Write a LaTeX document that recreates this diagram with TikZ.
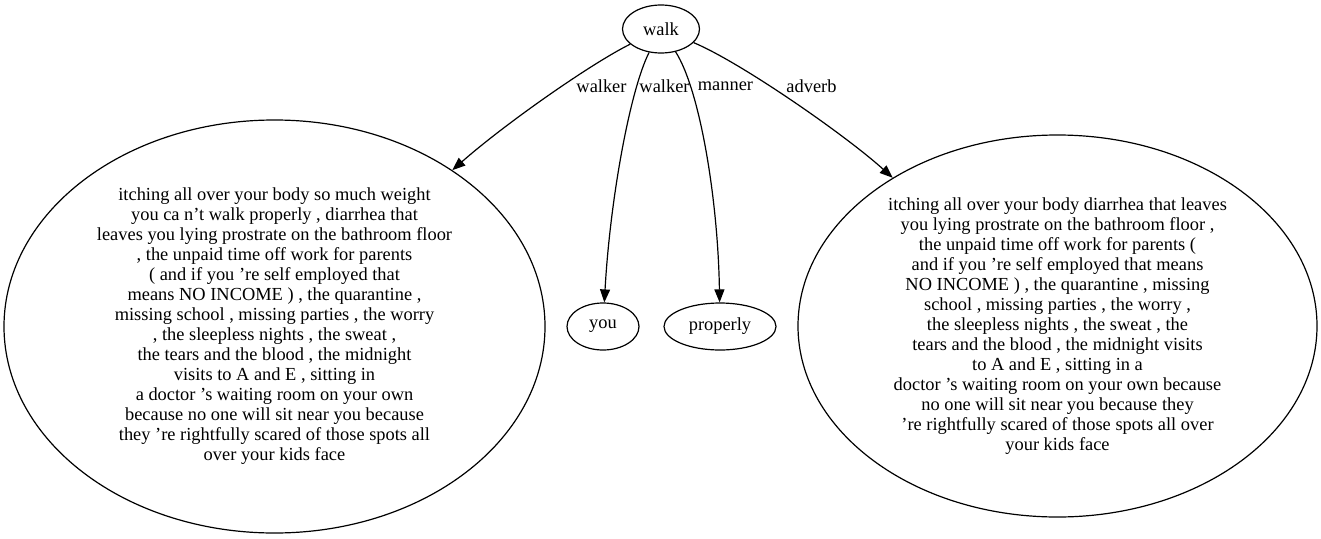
\documentclass[tikz,border=0pt]{standalone}
\usepackage{fontspec}
\setmainfont{Liberation Serif}
\usepackage{tikz}
\usetikzlibrary{shapes.geometric}
\usetikzlibrary{arrows.meta}

\begin{document}
\begin{tikzpicture}[x=1pt,y=-1pt]
    \newcommand{\wordheight}[0]{47pt}
    \newcommand{\graphfont}[0]{\fontsize{18.4}{20}\selectfont}

    \tikzstyle{dedge} = [line width=1.2pt,->,>={Triangle[length=13pt,width=10pt]},draw=black]

    \tikzstyle{word}=[
      ellipse,
      draw=black,
      line width=1.2pt,
      inner sep=0pt,
      minimum height=\wordheight,
      font=\graphfont,
    ]
    \tikzstyle{phrase}=[
      word,
      align=center,
    ]
    \tikzstyle{elabel}=[
      inner sep=0pt,
      font=\graphfont,
    ]

    \useasboundingbox (0,0) rectangle (1321,538);

    \node[word,minimum width=77pt,minimum height=48pt] (walk) at (661,29) {walk};
    \node[word,minimum width=72pt] (you) at (603,326.5) {you};
    \node[word,minimum width=112pt] (properly) at (720,326.5) {properly};

    \node[phrase,minimum width=541pt,minimum height=413pt] (leftphrase) at (274.5,326.5) {%
      itching all over your body so much weight\\
      you ca n't walk properly , diarrhea that\\
      leaves you lying prostrate on the bathroom floor\\
      , the unpaid time off work for parents\\
      ( and if you 're self employed that\\
      means NO INCOME ) , the quarantine ,\\
      missing school , missing parties , the worry\\
      , the sleepless nights , the sweat ,\\
      the tears and the blood , the midnight\\
      visits to A and E , sitting in\\
      a doctor 's waiting room on your own\\
      because no one will sit near you because\\
      they 're rightfully scared of those spots all\\
      over your kids face};

    \node[phrase,minimum width=519pt,minimum height=382pt] (rightphrase) at (1057.5,326) {%
      itching all over your body diarrhea that leaves\\
      you lying prostrate on the bathroom floor ,\\
      the unpaid time off work for parents (\\
      and if you 're self employed that means\\
      NO INCOME ) , the quarantine , missing\\
      school , missing parties , the worry ,\\
      the sleepless nights , the sweat , the\\
      tears and the blood , the midnight visits\\
      to A and E , sitting in a\\
      doctor 's waiting room on your own because\\
      no one will sit near you because they\\
      're rightfully scared of those spots all over\\
      your kids face};

    \draw[dedge] (walk) .. controls (592,63) and (506,123) .. (leftphrase);
    \draw[dedge] (walk) .. controls (630,90) and (610,200) .. (you);
    \draw[dedge] (walk) .. controls (700,90) and (718,200) .. (properly);
    \draw[dedge] (walk) .. controls (740,62) and (844,134) .. (rightphrase);

    \node[elabel] (walkerleft) at (601.5,86) {walker};
    \node[elabel] (walkeryou) at (664.5,86) {walker};
    \node[elabel] (mannerlabel) at (725.5,86) {manner};
    \node[elabel] (adverblabel) at (811.5,86) {adverb};
  \end{tikzpicture}
\end{document}
